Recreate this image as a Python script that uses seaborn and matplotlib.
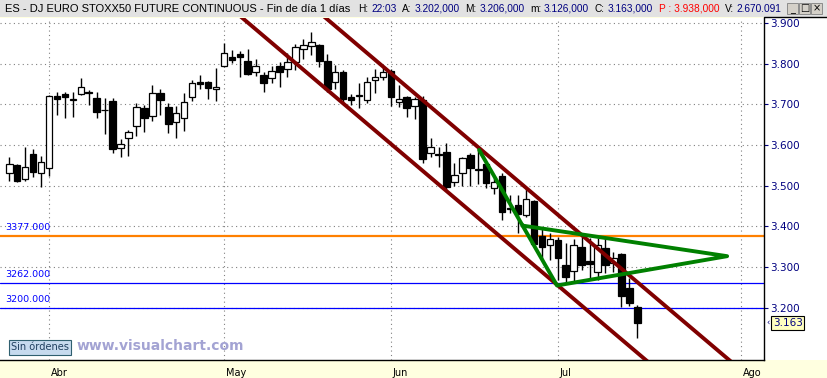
import numpy as np
import pandas as pd
import matplotlib
matplotlib.use("Agg")
import matplotlib.pyplot as plt
import matplotlib.transforms as mtransforms
from matplotlib.patches import Rectangle
from matplotlib.lines import Line2D
import seaborn as sns

sns.set_style("white")
plt.rcParams['font.family'] = ['DejaVu Sans']

# ---------------- data ----------------
first_day = "2008-03-25"
axis_last_day = "2008-08-01"
holidays = ["2008-05-01"]

opens = [3531, 3550, 3516, 3577, 3531, 3543, 3721, 3726, 3711, 3725,
         3730, 3715, 3687, 3708, 3592, 3617, 3647, 3690, 3672, 3727,
         3693, 3657, 3666, 3717, 3754, 3756, 3737, 3795, 3815, 3824,
         3807, 3779, 3772, 3764, 3794, 3786, 3803, 3835, 3844, 3846,
         3807, 3754, 3779, 3717, 3721, 3711, 3760, 3768, 3783, 3705,
         3717, 3696, 3711, 3580, 3577, 3584, 3510, 3531, 3576, 3541,
         3553, 3494, 3524, 3446, 3453, 3427, 3463, 3377, 3355, 3367,
         3305, 3291, 3349, 3315, 3287, 3346, 3310, 3332, 3248, 3202]
highs = [3570, 3553, 3596, 3590, 3573, 3723, 3731, 3731, 3731, 3764,
         3735, 3730, 3715, 3715, 3614, 3637, 3703, 3699, 3748, 3737,
         3703, 3697, 3727, 3760, 3772, 3758, 3789, 3850, 3834, 3832,
         3835, 3811, 3780, 3793, 3805, 3826, 3848, 3861, 3877, 3848,
         3824, 3797, 3785, 3726, 3752, 3768, 3786, 3797, 3786, 3748,
         3721, 3719, 3721, 3617, 3596, 3606, 3557, 3571, 3580, 3588,
         3559, 3518, 3531, 3477, 3477, 3498, 3465, 3393, 3385, 3373,
         3359, 3369, 3377, 3371, 3371, 3373, 3338, 3336, 3273, 3206]
lows = [3512, 3510, 3512, 3521, 3496, 3524, 3674, 3666, 3670, 3722,
        3699, 3667, 3627, 3581, 3571, 3574, 3621, 3633, 3660, 3674,
        3630, 3618, 3635, 3707, 3738, 3713, 3709, 3792, 3801, 3767,
        3771, 3770, 3730, 3752, 3742, 3767, 3785, 3812, 3821, 3791,
        3730, 3738, 3703, 3699, 3690, 3704, 3729, 3760, 3697, 3693,
        3670, 3663, 3557, 3570, 3545, 3490, 3500, 3500, 3500, 3505,
        3494, 3479, 3416, 3434, 3385, 3423, 3352, 3319, 3318, 3268,
        3260, 3260, 3293, 3269, 3269, 3285, 3289, 3201, 3205, 3126]
closes = [3553, 3512, 3545, 3533, 3558, 3721, 3712, 3717, 3713, 3742,
          3727, 3680, 3685, 3590, 3602, 3631, 3694, 3666, 3727, 3711,
          3651, 3678, 3705, 3752, 3749, 3740, 3742, 3825, 3810, 3817,
          3775, 3794, 3753, 3783, 3779, 3803, 3840, 3846, 3852, 3807,
          3738, 3779, 3713, 3711, 3724, 3754, 3768, 3779, 3719, 3713,
          3690, 3713, 3565, 3595, 3575, 3498, 3527, 3569, 3543, 3538,
          3506, 3509, 3435, 3443, 3431, 3467, 3356, 3349, 3369, 3322,
          3277, 3355, 3305, 3307, 3355, 3305, 3322, 3228, 3213, 3163]

month_labels = ["Abr", "May", "Jun", "Jul", "Ago"]
month_numbers = [4, 5, 6, 7, 8]
price_ticks = [3200, 3300, 3400, 3500, 3600, 3700, 3800, 3900]

levels = [3377, 3262, 3200]
level_labels = ["3377.000", "3262.000", "3200.000"]
level_colors = ["#FF8000", "#0000FF", "#0000FF"]
level_widths = [1.6, 0.9, 0.9]

channel_upper_x = [38, 94]
channel_upper_y = [3942, 3015]
channel_lower_x = [28, 84]
channel_lower_y = [3934, 3007]
triangle_x = [59.1, 68.9, 90.3, 64.6]
triangle_y = [3588, 3255, 3327, 3402]

last_price_label = "3.163"
header_title = "ES - DJ EURO STOXX50 FUTURE CONTINUOUS - Fin de día 1 días"
# (text, colour, spaces after)
header_pieces = [
    ("H:", "black", 1), ("22:03", "#000080", 2),
    ("A:", "black", 1), ("3.202,000", "#000080", 2),
    ("M:", "black", 1), ("3.206,000", "#000080", 2),
    ("m:", "black", 1), ("3.126,000", "#000080", 2),
    ("C:", "black", 1), ("3.163,000", "#000080", 2),
    ("P : 3.938,000", "#FF0000", 2),
    ("V:", "black", 1), ("2.670.091", "#000080", 0),
]

# ---------------- derived ----------------
days = pd.bdate_range(first_day, axis_last_day)
days = days[~days.isin(pd.to_datetime(holidays))]
month_pos = [int(np.argmax(days.month == m)) for m in month_numbers]
o = np.array(opens, float); h = np.array(highs, float)
l = np.array(lows, float); c = np.array(closes, float)
idx = np.arange(len(o))
up = c >= o

W, H = 828, 378
fig = plt.figure(figsize=(W / 100, H / 100), dpi=100)
fig.patch.set_facecolor("#FFFFE0")
renderer = fig.canvas.get_renderer()

def px_rect(x0, y0, x1, y1, **kw):
    r = Rectangle((x0 / W, 1 - y1 / H), (x1 - x0) / W, (y1 - y0) / H,
                  transform=fig.transFigure, **kw)
    fig.add_artist(r)
    return r

def fit_text(x0, x1, yc, s, **kw):
    t = fig.text(x0 / W, 1 - yc / H, s, fontsize=10, va="center", ha="left", **kw)
    w = t.get_window_extent(renderer).width
    t.set_fontsize(10 * (x1 - x0) / w)
    return t

# panels
px_rect(764, 17, 828, 360, fc="white", ec="none", zorder=0)
px_rect(0, 0, 828, 17, fc="#E2E2E2", ec="none", zorder=0)

ax = fig.add_axes([0, 18 / H, 764 / W, 342 / H])
ax.set_facecolor("white")

# level lines
for lv, col, lw in zip(levels, level_colors, level_widths):
    ax.axhline(lv, color=col, lw=lw, zorder=1)

# candles
ax.vlines(idx, l, h, color="black", lw=1.0, zorder=2)
ax.bar(idx, np.abs(c - o), bottom=np.minimum(o, c), width=0.82,
       color=np.where(up, "white", "black"), edgecolor="black",
       linewidth=0.9, zorder=3)

# trend channel (seaborn)
chan = pd.DataFrame({
    "x": channel_upper_x + channel_lower_x,
    "y": channel_upper_y + channel_lower_y,
    "line": ["upper"] * 2 + ["lower"] * 2,
})
sns.lineplot(data=chan, x="x", y="y", units="line", estimator=None, sort=False,
             color="#800000", lw=2.8, ax=ax, zorder=4, legend=False)
tri = pd.DataFrame({"x": triangle_x, "y": triangle_y})
sns.lineplot(data=tri, x="x", y="y", estimator=None, sort=False,
             color="#008000", lw=2.8, ax=ax, zorder=5, legend=False)

ax.set_xlim(-1.164, 94.94)
ax.set_ylim(3072, 3912)
ax.set_xlabel(""); ax.set_ylabel("")

# grid & ticks
ax.set_yticks(price_ticks)
ax.set_yticklabels([f"{v/1000:.3f}" for v in price_ticks])
ax.yaxis.tick_right()
ax.tick_params(axis="y", direction="out", length=3, width=0.8, color="#000080",
               labelcolor="#000080", labelsize=7.5, pad=1.5)
ax.set_xticks(month_pos)
ax.set_xticklabels([])
ax.tick_params(axis="x", direction="out", length=6, width=0.8, color="#333333")
ax.grid(True, color="#808080", linestyle=(0, (1, 3)), lw=0.8)
ax.set_axisbelow(True)
for s in ["left", "top"]:
    ax.spines[s].set_visible(False)
for s in ["right", "bottom"]:
    ax.spines[s].set_color("black"); ax.spines[s].set_linewidth(1.0)

# month labels
for pos, lab in zip(month_pos, month_labels):
    tr = mtransforms.blended_transform_factory(ax.transData, ax.transAxes) + \
        mtransforms.ScaledTranslation(2 / 100, -12.5 / 100, fig.dpi_scale_trans)
    ax.text(pos, 0, lab, transform=tr, ha="left", va="center", fontsize=7,
            color="black", clip_on=False)

# level labels
for lv, lab in zip(levels, level_labels):
    tr = mtransforms.blended_transform_factory(ax.transAxes, ax.transData) + \
        mtransforms.ScaledTranslation(0, 8 / 100, fig.dpi_scale_trans)
    ax.text(5 / 764, lv, lab, transform=tr, ha="left", va="center",
            fontsize=6.8, color="#0000FF")

# last price box
trp = mtransforms.blended_transform_factory(ax.transAxes, ax.transData)
ax.text(1 + 9 / 764, closes[-1], last_price_label, transform=trp, ha="left",
        va="center", fontsize=7.5, color="#000080", clip_on=False,
        bbox=dict(boxstyle="square,pad=0.15", fc="#FFFFC0", ec="black", lw=0.8))
ax.text(1 + 2 / 764, closes[-1], "‹", transform=trp, ha="left", va="center",
        fontsize=6, color="#000080", clip_on=False)

# right panel top border
fig.add_artist(Line2D([764 / W, 1], [1 - 17 / H, 1 - 17 / H], color="black",
                      lw=1.0, transform=fig.transFigure))

# header
hfam = ["Liberation Sans", "DejaVu Sans"]
fit_text(5, 352, 8.5, header_title, color="black", family=hfam)

def layout_header(x0, fs, draw):
    x = x0
    space = 0.278 * fs * 100 / 72
    arts = []
    for s, col, nsp in header_pieces:
        t = fig.text(x / W, 1 - 8.5 / H, s, fontsize=fs, va="center", ha="left",
                     color=col, family=hfam)
        x += t.get_window_extent(renderer).width + nsp * space
        arts.append(t)
    if not draw:
        for t in arts:
            t.remove()
    return x

end = layout_header(358, 8, False)
layout_header(358, 8 * (781 - 358) / (end - 358), True)

# window buttons
for bx, glyph in zip([787, 799, 811], ["_", "□", "×"]):
    px_rect(bx, 3, bx + 11, 14, fc="#D4D0C8", ec="#808080", lw=0.6, zorder=3)
    fig.text((bx + 5.5) / W, 1 - 8.5 / H, glyph, ha="center", va="center",
             fontsize=7, color="black", zorder=4)

# footer items
px_rect(9, 340, 71, 355, fc="#C6DAEE", ec="#2F5F6F", lw=0.8, zorder=3)
fit_text(11, 69, 347.5, "Sin órdenes", color="#1F3F5F", zorder=4)
fit_text(77, 245, 346, "www.visualchart.com", color="#A3A3D3",
         fontweight="bold", zorder=4)

fig.savefig("out.png", dpi=100, facecolor=fig.get_facecolor())
